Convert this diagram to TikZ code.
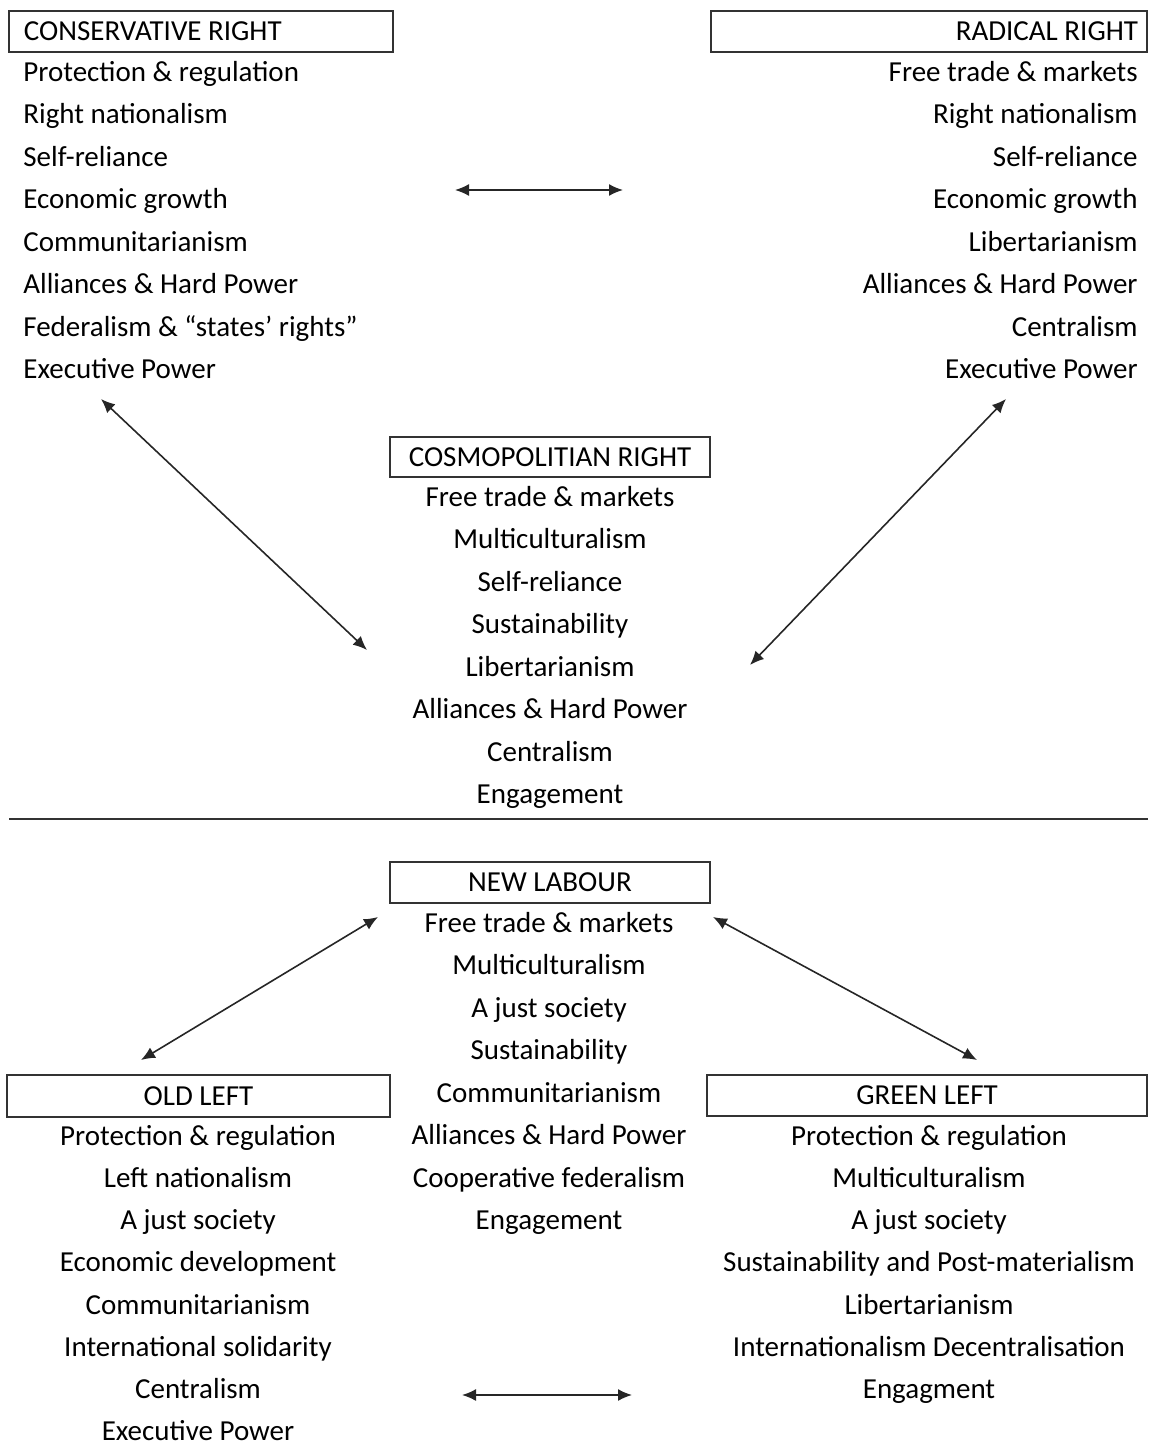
\documentclass[tikz,border=0pt]{standalone}
\usepackage{fontspec}
\setmainfont{Carlito}
\usetikzlibrary{arrows.meta}

\begin{document}
\begin{tikzpicture}[
  x=0.5pt,y=-0.5pt,
  every node/.style={font=\fontsize{14.5}{17}\selectfont},
  item/.style={inner sep=0pt,text height=9.3pt,text depth=0pt},
  headbox/.style={rectangle,draw=black!80,line width=0.7pt,inner sep=0pt,
                  text height=9.3pt,text depth=0pt,minimum height=20.5pt},
  link/.style={draw=black!85,line width=0.8pt,
               {Latex[length=7pt,width=6pt]}-{Latex[length=7pt,width=6pt]}},
]
\useasboundingbox (0,0) rectangle (1148,1445);

% Right-wing clusters
\node[headbox,inner xsep=7.5pt,text width=177pt,align=flush left] (crHead) at (201,31.5)
  {CONSERVATIVE RIGHT};
\foreach \t [count=\i] in {Protection \& regulation,Right nationalism,Self-reliance,
  Economic growth,Communitarianism,Alliances \& Hard Power,
  Federalism \& “states’ rights”,Executive Power}
  \node[item,anchor=west] (cr\i) at (23,{72+42.5*(\i-1)}) {\t};

\node[headbox,inner xsep=4.5pt,text width=209pt,align=flush right] (rrHead) at (929,31.5)
  {RADICAL RIGHT};
\foreach \t [count=\i] in {Free trade \& markets,Right nationalism,Self-reliance,
  Economic growth,Libertarianism,Alliances \& Hard Power,Centralism,Executive Power}
  \node[item,anchor=east] (rr\i) at (1138,{72+42.5*(\i-1)}) {\t};

\node[headbox,minimum width=160pt,minimum height=20pt] (cosHead) at (550,457)
  {COSMOPOLITIAN RIGHT};
\foreach \t [count=\i] in {Free trade \& markets,Multiculturalism,Self-reliance,
  Sustainability,Libertarianism,Alliances \& Hard Power,Centralism,Engagement}
  \node[item] (cos\i) at (550,{497+42.5*(\i-1)}) {\t};

\coordinate (crL) at (455,190);
\coordinate (rrL) at (623,190);
\coordinate (crD) at (101,399);
\coordinate (cosL) at (367,650);
\coordinate (rrD) at (1006,399);
\coordinate (cosR) at (750,665);
\draw[link] (crL) -- (rrL);
\draw[link] (crD) -- (cosL);
\draw[link] (rrD) -- (cosR);

\coordinate (ruleL) at (9,819);
\coordinate (ruleR) at (1148,819);
\draw[black!80,line width=1pt] (ruleL) -- (ruleR);

% Left-wing clusters
\node[headbox,minimum width=160pt] (nlHead) at (550,882.5) {NEW LABOUR};
\foreach \t [count=\i] in {Free trade \& markets,Multiculturalism,A just society,
  Sustainability,Communitarianism,Alliances \& Hard Power,Cooperative federalism,
  Engagement}
  \node[item] (nl\i) at (549,{923+42.5*(\i-1)}) {\t};

\node[headbox,minimum width=191.5pt,minimum height=21pt] (olHead) at (198.5,1096)
  {OLD LEFT};
\foreach \t [count=\i] in {Protection \& regulation,Left nationalism,A just society,
  Economic development,Communitarianism,International solidarity,Centralism,
  Executive Power}
  \node[item] (ol\i) at (198,{1136+42.2*(\i-1)}) {\t};

\node[headbox,minimum width=220pt] (glHead) at (927,1095.5) {GREEN LEFT};
\foreach \t [count=\i] in {Protection \& regulation,Multiculturalism,A just society,
  Sustainability and Post-materialism,Libertarianism,
  Internationalism Decentralisation,Engagment}
  \node[item] (gl\i) at (929,{1136+42.2*(\i-1)}) {\t};

\coordinate (nlL) at (378,917);
\coordinate (olU) at (141,1060);
\coordinate (nlR) at (713,917);
\coordinate (glU) at (977,1060);
\coordinate (olR) at (462,1395);
\coordinate (glB) at (632,1395);
\draw[link] (nlL) -- (olU);
\draw[link] (nlR) -- (glU);
\draw[link] (olR) -- (glB);
\end{tikzpicture}
\end{document}
